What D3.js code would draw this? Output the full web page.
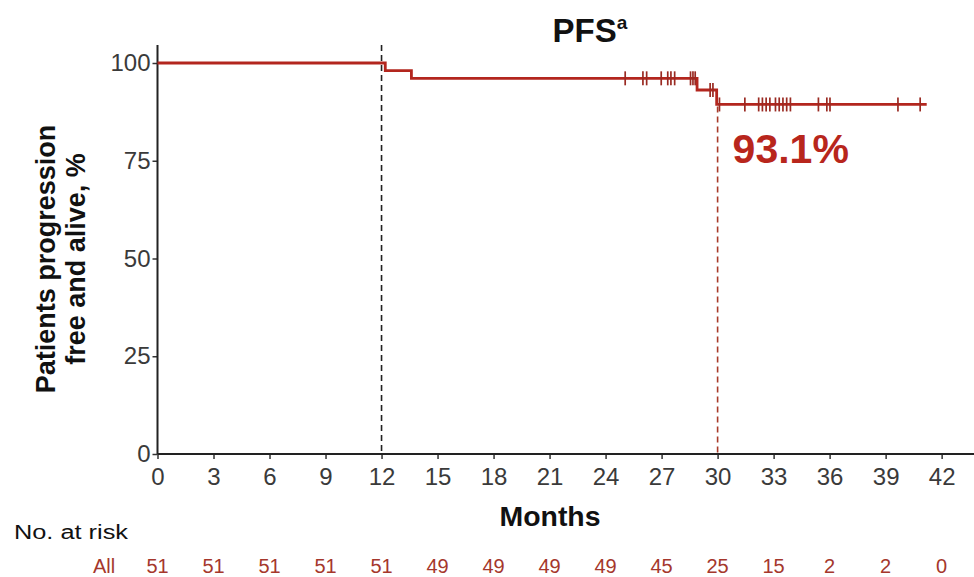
<!DOCTYPE html>
<html>
<head>
<meta charset="utf-8">
<script src="https://cdn.jsdelivr.net/npm/d3@7"></script>
<style>
  html, body { margin: 0; padding: 0; background: #fff; }
  svg { display: block; }
</style>
</head>
<body>
<svg id="chart" width="974" height="577"></svg>
<script>
// Kaplan-Meier step curve: event times (months) and survival after each step (%)
const stepTimes = [0, 12.2, 13.6, 28.9, 29.95];
const stepSurvival = [100, 98.04, 96.08, 93.1, 89.4];
const followUpEnd = 41.2;

// Censored observations (months)
const censorTimes = [25.05, 26.0, 26.2, 26.98, 27.33, 27.5, 27.7, 28.55, 28.68, 28.8,
  29.6, 29.75, 30.1, 31.46, 32.2, 32.4, 32.6, 32.8, 33.1, 33.3, 33.5, 33.7, 33.9,
  35.4, 35.85, 36.02, 39.66, 40.85];

const xTicks = [0, 3, 6, 9, 12, 15, 18, 21, 24, 27, 30, 33, 36, 39, 42];
const yTicks = [0, 25, 50, 75, 100];
const atRisk = [51, 51, 51, 51, 51, 49, 49, 49, 49, 45, 25, 15, 2, 2, 0];
const landmarks = [12, 30];
const landmarkLabel = "93.1%";

const svg = d3.select("#chart");
const left = 157.5, bottom = 454;
const x = d3.scaleLinear().domain([0, 42]).range([left, left + 42 * 18.67]);
const y = d3.scaleLinear().domain([0, 100]).range([bottom, 63]);

const red = "#b3261e";
const font = "'Liberation Sans', Arial, sans-serif";

// survival at time t
function surv(t) {
  let s = stepSurvival[0];
  for (let i = 0; i < stepTimes.length; i++) if (stepTimes[i] <= t) s = stepSurvival[i];
  return s;
}

// Landmark dashed lines
svg.append("line")
  .attr("x1", x(landmarks[0])).attr("x2", x(landmarks[0]))
  .attr("y1", 45).attr("y2", bottom)
  .attr("stroke", "#222").attr("stroke-width", 1.6).attr("stroke-dasharray", "6,4");
svg.append("line")
  .attr("x1", x(landmarks[1])).attr("x2", x(landmarks[1]))
  .attr("y1", y(surv(landmarks[1] + 0.2)) + 2).attr("y2", bottom)
  .attr("stroke", "#a83a2a").attr("stroke-width", 1.6).attr("stroke-dasharray", "6,4");

// Axes
const xAxis = d3.axisBottom(x).tickValues(xTicks).tickSize(5).tickSizeOuter(0);
const gx = svg.append("g").attr("transform", `translate(0,${bottom})`).call(xAxis);
gx.select(".domain").remove();
gx.append("line").attr("x1", left).attr("x2", 974).attr("y1", 0).attr("y2", 0)
  .attr("stroke", "#222").attr("stroke-width", 2);
gx.selectAll(".tick line").attr("stroke", "#333").attr("stroke-width", 1.5);
gx.selectAll(".tick text").attr("font-family", font).attr("font-size", 24)
  .attr("fill", "#3a3a3a").attr("y", 14).attr("dy", "0.71em");

const yAxis = d3.axisLeft(y).tickValues(yTicks).tickSize(5).tickSizeOuter(0);
const gy = svg.append("g").attr("transform", `translate(${left},0)`).call(yAxis);
gy.select(".domain").remove();
gy.append("line").attr("x1", 0).attr("x2", 0).attr("y1", 45).attr("y2", bottom)
  .attr("stroke", "#222").attr("stroke-width", 2);
gy.selectAll(".tick line").attr("stroke", "#333").attr("stroke-width", 1.5);
gy.selectAll(".tick text").attr("font-family", font).attr("font-size", 24)
  .attr("fill", "#3a3a3a").attr("x", -7);

// Step curve
const pts = stepTimes.map((t, i) => [t, stepSurvival[i]]);
pts.push([followUpEnd, stepSurvival[stepSurvival.length - 1]]);
const line = d3.line().x(d => x(d[0])).y(d => y(d[1])).curve(d3.curveStepAfter);
svg.append("path").datum(pts).attr("d", line)
  .attr("fill", "none").attr("stroke", red).attr("stroke-width", 2.8);

// Censor ticks
svg.append("g").selectAll("line").data(censorTimes).join("line")
  .attr("x1", d => x(d)).attr("x2", d => x(d))
  .attr("y1", d => y(surv(d)) - 7).attr("y2", d => y(surv(d)) + 7)
  .attr("stroke", "#9a2a22").attr("stroke-width", 1.7);

// Landmark estimate
svg.append("text").attr("x", x(landmarks[1]) + 15).attr("y", 163)
  .attr("font-family", font).attr("font-weight", "bold").attr("font-size", 41)
  .attr("fill", "#b8261c").text(landmarkLabel);

// Title
const title = svg.append("text").attr("x", 590).attr("y", 42)
  .attr("text-anchor", "middle").attr("font-family", font)
  .attr("font-weight", "bold").attr("font-size", 33).attr("fill", "#111");
title.append("tspan").text("PFS");
title.append("tspan").attr("font-size", 19).attr("dy", -13).text("a");

// Y axis title
const yl = svg.append("text").attr("transform", "translate(0,259) rotate(-90)")
  .attr("text-anchor", "middle").attr("font-family", font)
  .attr("font-weight", "bold").attr("font-size", 27).attr("fill", "#111");
yl.append("tspan").attr("x", 0).attr("y", 55).text("Patients progression");
yl.append("tspan").attr("x", 0).attr("y", 85).text("free and alive, %");

// X axis title
svg.append("text").attr("x", 550).attr("y", 526).attr("text-anchor", "middle")
  .attr("font-family", font).attr("font-weight", "bold").attr("font-size", 27)
  .attr("textLength", 101).attr("lengthAdjust", "spacingAndGlyphs")
  .attr("fill", "#111").text("Months");

// Number at risk table
svg.append("text").attr("x", 14).attr("y", 539).attr("font-family", font)
  .attr("font-size", 20).attr("textLength", 114).attr("lengthAdjust", "spacingAndGlyphs")
  .attr("fill", "#111").text("No. at risk");
svg.append("text").attr("x", 104).attr("y", 573).attr("text-anchor", "middle")
  .attr("font-family", font).attr("font-size", 20).attr("fill", "#a5372c").text("All");
svg.append("g").selectAll("text").data(atRisk).join("text")
  .attr("x", (d, i) => x(xTicks[i])).attr("y", 573).attr("text-anchor", "middle")
  .attr("font-family", font).attr("font-size", 20).attr("fill", "#a5372c")
  .text(d => d);
</script>
</body>
</html>
